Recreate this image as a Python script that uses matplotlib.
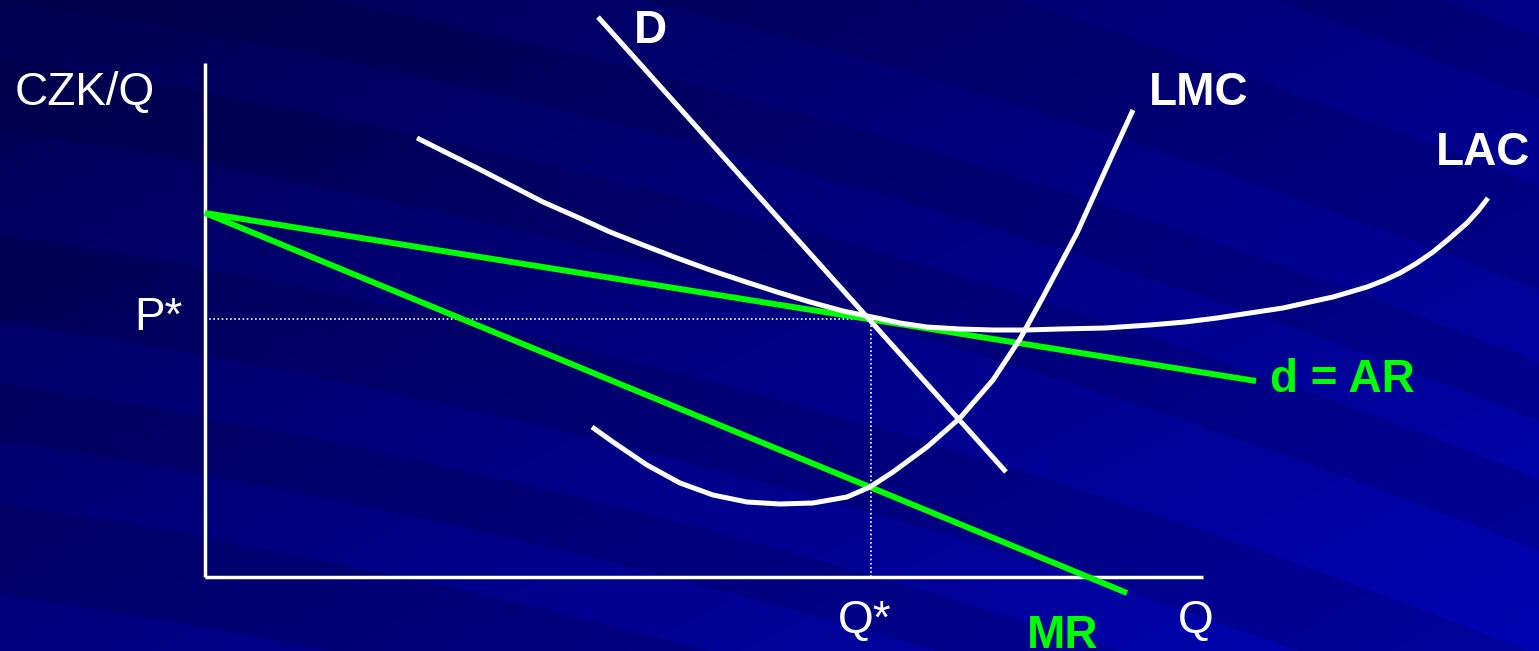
import numpy as np
import matplotlib.pyplot as plt

# economic diagram data (Q, CZK/Q), origin at the axes corner
ar_q = [0, 1051]
ar_p = [364, 196]

mr_q = [0, 922]
mr_p = [364, -16]

d_q = [393, 801]
d_p = [560, 105]

lmc_q = [387, 408, 442, 475, 508, 542, 575, 608, 642, 665, 688, 722, 755, 788,
         815, 838, 872, 905, 928]
lmc_p = [150, 135, 112, 94, 82, 75, 73, 74, 80, 90, 105, 130, 159, 197,
         238, 280, 344, 417, 467]

lac_q = [212, 240, 272, 305, 338, 372, 405, 438, 472, 505, 538, 572, 605, 638,
         672, 695, 722, 755, 788, 820, 855, 900, 945, 980, 1012, 1045, 1078,
         1105, 1128, 1162, 1180, 1195, 1212, 1228, 1245, 1262, 1273, 1283]
lac_p = [439, 425, 409, 392, 375, 360, 345, 332, 319, 307, 296, 285, 275, 266,
         259, 254, 250, 248, 247, 247, 248, 249, 252, 255, 259, 264, 269,
         275, 280, 290, 297, 304, 314, 325, 339, 354, 366, 379]

q_star = 666
p_star = 258
q_max = 998
p_max = 514

W, H = 1539, 651
x0, y0 = 205, 577  # pixel position of origin

fig = plt.figure(figsize=(W / 100, H / 100), dpi=100)
ax = fig.add_axes([0, 0, 1, 1])
ax.set_xlim(-x0, W - x0)
ax.set_ylim(y0 - H, y0)
ax.axis('off')

# blue slide background with diagonal streaks
yy, xx = np.mgrid[0:H, 0:W].astype(float)
b = 0.30 + 0.20 * xx / W + 0.16 * yy / H
v = yy - (0.15 * xx + 0.8e-4 * xx ** 2)
stripe = np.sign(np.sin(2 * np.pi * v / 150 + 0.9 * np.sin(2 * np.pi * v / 410)))
b = b + 0.035 * stripe * (0.5 + 0.5 * yy / H + 0.3 * xx / W)
b = np.clip(b, 0, 1)
g = 0.06 * np.clip(b - 0.45, 0, 1)
bg = np.dstack([np.zeros_like(b), g, b])
ax.imshow(bg, extent=(-x0, W - x0, y0 - H, y0), aspect='auto', zorder=0,
          interpolation='bilinear')

# axes of the diagram
ax.plot([0, 0], [0, p_max], color='white', lw=2.5, solid_capstyle='butt', zorder=3)
ax.plot([0, q_max], [0, 0], color='white', lw=2.5, solid_capstyle='butt', zorder=3)

# dotted guides
ax.plot([0, q_star], [p_star, p_star], color='white', lw=1.2,
        linestyle=(0, (1, 1.5)), zorder=2)
ax.plot([q_star, q_star], [0, p_star], color='white', lw=1.2,
        linestyle=(0, (1, 1.5)), zorder=2)

green = '#00ff00'
ax.plot(ar_q, ar_p, color=green, lw=4.3, solid_capstyle='butt', zorder=3)
ax.plot(mr_q, mr_p, color=green, lw=4.3, solid_capstyle='butt', zorder=3)

ax.plot(lac_q, lac_p, color='white', lw=3.6, solid_capstyle='butt',
        solid_joinstyle='round', zorder=4)
ax.plot(lmc_q, lmc_p, color='white', lw=3.6, solid_capstyle='butt',
        solid_joinstyle='round', zorder=4)
ax.plot(d_q, d_p, color='white', lw=3.6, solid_capstyle='butt', zorder=4)

font = 'Liberation Sans'
ax.text(-190, 472, 'CZK/Q', color='white', fontsize=33, family=font, va='baseline')
ax.text(-22, 247, 'P*', color='white', fontsize=33, family=font, va='baseline', ha='right')
ax.text(660, -56, 'Q*', color='white', fontsize=33, family=font, va='baseline', ha='center')
ax.text(991, -56, 'Q', color='white', fontsize=33, family=font, va='baseline', ha='center')
ax.text(858, -71, 'MR', color=green, fontsize=33, family=font, va='baseline',
        ha='center', weight='bold')
ax.text(445, 534, 'D', color='white', fontsize=33, family=font, va='baseline',
        ha='center', weight='bold')
ax.text(944, 472, 'LMC', color='white', fontsize=33, family=font, va='baseline', weight='bold')
ax.text(1231, 412, 'LAC', color='white', fontsize=33, family=font, va='baseline', weight='bold')
ax.text(1065, 185, 'd = AR', color=green, fontsize=33, family=font, va='baseline', weight='bold')

plt.savefig('out.png', dpi=100)
